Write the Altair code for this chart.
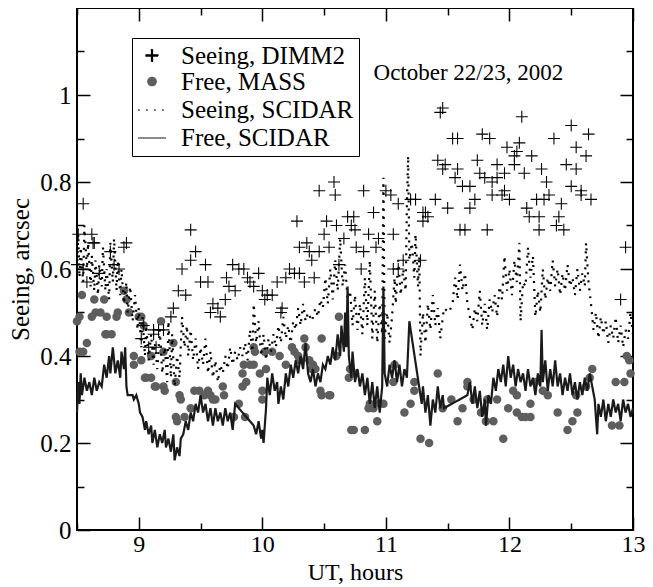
import altair as alt
import pandas as pd

SERIES = ["Seeing, DIMM2", "Free, MASS", "Seeing, SCIDAR", "Free, SCIDAR"]
COLORS = ["#000000", "#5e5e5e", "#000000", "#1a1a1a"]

# Seeing, DIMM2 (crosses): (UT hours, arcsec)
dimm2 = [
    (8.50, 0.61), (8.51, 0.68), (8.55, 0.75), (8.55, 0.60), (8.58, 0.57), (8.62, 0.68),
    (8.63, 0.66), (8.64, 0.66), (8.68, 0.59), (8.77, 0.64), (8.80, 0.61), (8.84, 0.60),
    (8.88, 0.65), (8.90, 0.66), (9.02, 0.44), (9.04, 0.47), (9.08, 0.42), (9.12, 0.46),
    (9.12, 0.45), (9.14, 0.42), (9.16, 0.46), (9.20, 0.46), (9.26, 0.49), (9.28, 0.51),
    (9.32, 0.55), (9.35, 0.60), (9.38, 0.54), (9.42, 0.69), (9.42, 0.62), (9.46, 0.64),
    (9.50, 0.57), (9.54, 0.61), (9.56, 0.57), (9.58, 0.50), (9.60, 0.52), (9.64, 0.51),
    (9.66, 0.49), (9.70, 0.53), (9.71, 0.58), (9.73, 0.56), (9.76, 0.61), (9.78, 0.55),
    (9.81, 0.60), (9.85, 0.60), (9.88, 0.58), (9.90, 0.57), (9.93, 0.56), (9.97, 0.59),
    (10.00, 0.55), (10.02, 0.53), (10.04, 0.54), (10.08, 0.54), (10.12, 0.57), (10.15, 0.50),
    (10.16, 0.51), (10.19, 0.58), (10.22, 0.60), (10.26, 0.59), (10.28, 0.71), (10.30, 0.59),
    (10.30, 0.65), (10.34, 0.57), (10.36, 0.66), (10.38, 0.64), (10.40, 0.62), (10.42, 0.58),
    (10.46, 0.64), (10.46, 0.78), (10.50, 0.68), (10.52, 0.71), (10.54, 0.65), (10.58, 0.80),
    (10.59, 0.77), (10.60, 0.70), (10.62, 0.61), (10.66, 0.67), (10.69, 0.72), (10.72, 0.70),
    (10.74, 0.72), (10.75, 0.69), (10.76, 0.65), (10.80, 0.60), (10.82, 0.78), (10.82, 0.64),
    (10.86, 0.68), (10.90, 0.73), (10.92, 0.65), (10.94, 0.67), (11.00, 0.78), (11.04, 0.77),
    (11.06, 0.68), (11.06, 0.60), (11.10, 0.75), (11.10, 0.60), (11.14, 0.62), (11.20, 0.76),
    (11.24, 0.76), (11.28, 0.62), (11.30, 0.73), (11.30, 0.71), (11.32, 0.73), (11.34, 0.72),
    (11.40, 0.76), (11.42, 0.85), (11.44, 0.96), (11.46, 0.97), (11.46, 0.83), (11.48, 0.84),
    (11.50, 0.74), (11.54, 0.90), (11.56, 0.81), (11.58, 0.90), (11.58, 0.83), (11.60, 0.69),
    (11.62, 0.79), (11.64, 0.69), (11.68, 0.79), (11.68, 0.74), (11.72, 0.76), (11.74, 0.85),
    (11.76, 0.82), (11.78, 0.91), (11.80, 0.81), (11.82, 0.69), (11.84, 0.90), (11.86, 0.80),
    (11.86, 0.77), (11.90, 0.84), (11.90, 0.81), (11.94, 0.77), (11.96, 0.82), (11.96, 0.78),
    (11.98, 0.88), (12.00, 0.76), (12.04, 0.86), (12.04, 0.84), (12.06, 0.87), (12.08, 0.89),
    (12.10, 0.95), (12.12, 0.82), (12.14, 0.74), (12.16, 0.72), (12.18, 0.86), (12.22, 0.76),
    (12.24, 0.72), (12.24, 0.69), (12.26, 0.83), (12.28, 0.76), (12.30, 0.80), (12.32, 0.77),
    (12.36, 0.90), (12.38, 0.70), (12.40, 0.72), (12.42, 0.75), (12.44, 0.69), (12.46, 0.84),
    (12.50, 0.79), (12.50, 0.93), (12.54, 0.88), (12.54, 0.83), (12.58, 0.78), (12.58, 0.77),
    (12.62, 0.86), (12.64, 0.91), (12.66, 0.76), (12.90, 0.53), (12.94, 0.65),
]

# Free, MASS (grey dots)
mass = [
    (8.50, 0.48), (8.52, 0.49), (8.52, 0.41), (8.54, 0.54), (8.55, 0.41), (8.58, 0.43),
    (8.62, 0.49), (8.64, 0.53), (8.65, 0.50), (8.69, 0.50), (8.72, 0.53), (8.73, 0.45),
    (8.74, 0.49), (8.74, 0.45), (8.78, 0.45), (8.82, 0.49), (8.83, 0.50), (8.88, 0.55),
    (8.90, 0.53), (8.92, 0.50), (8.96, 0.40), (8.96, 0.38), (9.00, 0.49), (9.02, 0.49),
    (9.02, 0.39), (9.04, 0.47), (9.05, 0.35), (9.06, 0.35), (9.10, 0.40), (9.10, 0.35),
    (9.13, 0.33), (9.14, 0.33), (9.18, 0.48), (9.20, 0.41), (9.20, 0.33), (9.21, 0.32),
    (9.28, 0.43), (9.30, 0.34), (9.30, 0.26), (9.31, 0.25), (9.33, 0.31), (9.34, 0.30),
    (9.37, 0.26), (9.42, 0.28), (9.45, 0.32), (9.49, 0.32), (9.53, 0.31), (9.56, 0.32),
    (9.58, 0.31), (9.60, 0.30), (9.62, 0.30), (9.68, 0.33), (9.69, 0.31), (9.77, 0.26),
    (9.81, 0.29), (9.84, 0.36), (9.84, 0.33), (9.85, 0.38), (9.86, 0.26), (9.87, 0.34),
    (9.90, 0.38), (9.93, 0.38), (9.93, 0.42), (9.94, 0.41), (9.98, 0.36), (10.00, 0.32),
    (10.00, 0.30), (10.02, 0.41), (10.03, 0.37), (10.08, 0.41), (10.14, 0.40), (10.19, 0.38),
    (10.24, 0.42), (10.26, 0.41), (10.29, 0.40), (10.30, 0.39), (10.34, 0.44), (10.35, 0.42),
    (10.38, 0.39), (10.40, 0.37), (10.41, 0.38), (10.43, 0.37), (10.47, 0.32), (10.48, 0.44),
    (10.48, 0.31), (10.54, 0.31), (10.55, 0.31), (10.60, 0.40), (10.62, 0.49), (10.70, 0.35),
    (10.71, 0.37), (10.72, 0.23), (10.74, 0.23), (10.75, 0.36), (10.83, 0.23), (10.86, 0.28),
    (10.87, 0.29), (10.90, 0.28), (10.93, 0.25), (10.95, 0.29), (10.98, 0.29), (11.06, 0.34),
    (11.07, 0.38), (11.15, 0.27), (11.20, 0.29), (11.23, 0.34), (11.23, 0.32), (11.28, 0.21),
    (11.35, 0.20), (11.42, 0.36), (11.46, 0.28), (11.53, 0.30), (11.58, 0.25), (11.62, 0.28),
    (11.66, 0.33), (11.66, 0.34), (11.71, 0.30), (11.77, 0.27), (11.81, 0.25), (11.82, 0.30),
    (11.87, 0.25), (11.90, 0.30), (11.95, 0.21), (11.99, 0.28), (12.03, 0.32), (12.06, 0.31),
    (12.06, 0.27), (12.10, 0.26), (12.13, 0.26), (12.17, 0.26), (12.17, 0.29), (12.21, 0.34),
    (12.27, 0.32), (12.31, 0.31), (12.39, 0.27), (12.47, 0.23), (12.51, 0.25), (12.54, 0.31),
    (12.55, 0.27), (12.62, 0.33), (12.65, 0.35), (12.67, 0.37), (12.83, 0.24), (12.86, 0.34),
    (12.89, 0.24), (12.93, 0.34), (12.95, 0.40), (12.97, 0.39), (12.98, 0.36),
]

# Seeing, SCIDAR (dotted)
seeing_scidar = [
    (8.50, 0.60), (8.51, 0.68), (8.52, 0.58), (8.53, 0.65), (8.55, 0.57), (8.56, 0.70),
    (8.58, 0.60), (8.59, 0.66), (8.61, 0.56), (8.62, 0.63), (8.64, 0.55), (8.65, 0.62),
    (8.67, 0.54), (8.68, 0.61), (8.70, 0.56), (8.71, 0.65), (8.73, 0.55), (8.74, 0.60),
    (8.76, 0.53), (8.77, 0.66), (8.79, 0.57), (8.80, 0.67), (8.82, 0.55), (8.83, 0.62),
    (8.85, 0.54), (8.86, 0.60), (8.88, 0.52), (8.90, 0.57), (8.91, 0.50), (8.93, 0.56),
    (8.95, 0.48), (8.97, 0.54), (8.99, 0.46), (9.00, 0.51), (9.02, 0.42), (9.03, 0.49),
    (9.05, 0.40), (9.06, 0.47), (9.08, 0.39), (9.10, 0.45), (9.12, 0.38), (9.13, 0.43),
    (9.15, 0.37), (9.17, 0.46), (9.19, 0.36), (9.21, 0.42), (9.23, 0.34), (9.24, 0.48),
    (9.26, 0.35), (9.27, 0.45), (9.29, 0.33), (9.31, 0.40), (9.33, 0.35), (9.35, 0.49),
    (9.37, 0.42), (9.39, 0.47), (9.40, 0.40), (9.42, 0.46), (9.44, 0.39), (9.46, 0.44),
    (9.48, 0.37), (9.50, 0.42), (9.52, 0.38), (9.54, 0.44), (9.56, 0.36), (9.58, 0.41),
    (9.60, 0.35), (9.62, 0.39), (9.64, 0.34), (9.66, 0.38), (9.68, 0.36), (9.70, 0.40),
    (9.72, 0.37), (9.74, 0.42), (9.76, 0.38), (9.78, 0.41), (9.80, 0.39), (9.82, 0.42),
    (9.84, 0.40), (9.86, 0.43), (9.88, 0.39), (9.90, 0.46), (9.92, 0.41), (9.93, 0.52),
    (9.95, 0.43), (9.97, 0.48), (9.99, 0.40), (10.01, 0.45), (10.03, 0.39), (10.05, 0.44),
    (10.07, 0.41), (10.09, 0.45), (10.11, 0.42), (10.13, 0.47), (10.15, 0.43), (10.17, 0.49),
    (10.19, 0.44), (10.21, 0.47), (10.23, 0.43), (10.25, 0.48), (10.27, 0.46), (10.29, 0.51),
    (10.31, 0.47), (10.33, 0.52), (10.35, 0.48), (10.37, 0.50), (10.40, 0.48), (10.43, 0.51),
    (10.45, 0.49), (10.47, 0.53), (10.49, 0.51), (10.51, 0.58), (10.53, 0.52), (10.55, 0.60),
    (10.57, 0.53), (10.59, 0.62), (10.61, 0.55), (10.63, 0.67), (10.65, 0.56), (10.67, 0.61),
    (10.69, 0.53), (10.71, 0.55), (10.73, 0.47), (10.75, 0.54), (10.77, 0.46), (10.79, 0.52),
    (10.81, 0.45), (10.83, 0.58), (10.85, 0.47), (10.87, 0.62), (10.89, 0.44), (10.91, 0.55),
    (10.93, 0.43), (10.95, 0.52), (10.97, 0.45), (10.98, 0.81), (10.99, 0.44), (11.01, 0.50),
    (11.03, 0.43), (11.05, 0.49), (11.07, 0.58), (11.08, 0.52), (11.10, 0.62), (11.12, 0.54),
    (11.14, 0.60), (11.16, 0.55), (11.17, 0.75), (11.18, 0.86), (11.19, 0.62), (11.21, 0.66),
    (11.23, 0.58), (11.24, 0.68), (11.26, 0.56), (11.27, 0.63), (11.28, 0.40), (11.30, 0.50),
    (11.32, 0.43), (11.34, 0.52), (11.36, 0.46), (11.38, 0.54), (11.40, 0.47), (11.42, 0.51),
    (11.44, 0.44), (11.47, 0.51), (11.51, 0.50), (11.54, 0.52), (11.56, 0.58), (11.58, 0.53),
    (11.60, 0.61), (11.62, 0.55), (11.64, 0.59), (11.66, 0.52), (11.68, 0.49), (11.70, 0.46),
    (11.72, 0.51), (11.74, 0.48), (11.76, 0.55), (11.78, 0.47), (11.80, 0.52), (11.82, 0.46),
    (11.84, 0.53), (11.86, 0.50), (11.88, 0.54), (11.90, 0.49), (11.92, 0.56), (11.94, 0.53),
    (11.96, 0.63), (11.98, 0.55), (12.00, 0.60), (12.02, 0.54), (12.04, 0.62), (12.06, 0.57),
    (12.08, 0.66), (12.09, 0.48), (12.11, 0.57), (12.13, 0.56), (12.15, 0.65), (12.17, 0.58),
    (12.19, 0.63), (12.21, 0.49), (12.23, 0.55), (12.25, 0.50), (12.27, 0.60), (12.29, 0.53),
    (12.31, 0.58), (12.33, 0.55), (12.35, 0.62), (12.37, 0.56), (12.39, 0.60), (12.41, 0.54),
    (12.43, 0.59), (12.45, 0.55), (12.47, 0.61), (12.49, 0.56), (12.51, 0.58), (12.53, 0.54),
    (12.55, 0.60), (12.57, 0.55), (12.59, 0.59), (12.61, 0.56), (12.62, 0.66), (12.64, 0.57),
    (12.66, 0.52), (12.68, 0.46), (12.70, 0.50), (12.72, 0.44), (12.74, 0.49), (12.76, 0.45),
    (12.78, 0.48), (12.80, 0.43), (12.82, 0.47), (12.84, 0.44), (12.86, 0.49), (12.88, 0.43),
    (12.90, 0.47), (12.92, 0.42), (12.94, 0.46), (12.96, 0.44), (12.98, 0.50), (13.00, 0.45),
]

# Free, SCIDAR (solid)
free_scidar = [
    (8.50, 0.27), (8.51, 0.34), (8.52, 0.29), (8.53, 0.36), (8.54, 0.31), (8.56, 0.35),
    (8.58, 0.32), (8.60, 0.34), (8.62, 0.31), (8.64, 0.35), (8.66, 0.32), (8.68, 0.34),
    (8.70, 0.33), (8.72, 0.38), (8.74, 0.35), (8.76, 0.40), (8.77, 0.36), (8.79, 0.42),
    (8.81, 0.36), (8.83, 0.39), (8.85, 0.35), (8.86, 0.41), (8.88, 0.37), (8.89, 0.42),
    (8.90, 0.33), (8.91, 0.31), (8.95, 0.31), (8.96, 0.30), (8.98, 0.31), (9.00, 0.29),
    (9.01, 0.27), (9.03, 0.26), (9.05, 0.23), (9.06, 0.25), (9.08, 0.22), (9.10, 0.24),
    (9.11, 0.20), (9.13, 0.23), (9.15, 0.19), (9.17, 0.22), (9.19, 0.20), (9.21, 0.23),
    (9.22, 0.19), (9.24, 0.21), (9.26, 0.18), (9.28, 0.22), (9.29, 0.16), (9.31, 0.19),
    (9.33, 0.17), (9.34, 0.21), (9.36, 0.22), (9.38, 0.25), (9.40, 0.23), (9.42, 0.27),
    (9.44, 0.25), (9.46, 0.29), (9.48, 0.27), (9.50, 0.31), (9.52, 0.27), (9.54, 0.29),
    (9.56, 0.25), (9.58, 0.28), (9.60, 0.24), (9.62, 0.28), (9.64, 0.25), (9.66, 0.27),
    (9.68, 0.24), (9.70, 0.28), (9.72, 0.25), (9.74, 0.27), (9.76, 0.23), (9.78, 0.29),
    (9.93, 0.24), (9.95, 0.22), (9.97, 0.25), (9.99, 0.21), (10.00, 0.23), (10.01, 0.20),
    (10.03, 0.28), (10.04, 0.35), (10.06, 0.31), (10.08, 0.36), (10.10, 0.32), (10.12, 0.34),
    (10.13, 0.29), (10.15, 0.33), (10.17, 0.30), (10.19, 0.36), (10.21, 0.33), (10.23, 0.38),
    (10.25, 0.35), (10.27, 0.39), (10.29, 0.36), (10.31, 0.40), (10.33, 0.37), (10.35, 0.43),
    (10.37, 0.36), (10.39, 0.34), (10.41, 0.37), (10.43, 0.33), (10.45, 0.36), (10.47, 0.34),
    (10.49, 0.38), (10.51, 0.37), (10.53, 0.40), (10.55, 0.38), (10.57, 0.42), (10.59, 0.39),
    (10.61, 0.45), (10.63, 0.40), (10.64, 0.47), (10.66, 0.41), (10.67, 0.50), (10.68, 0.42),
    (10.69, 0.56), (10.70, 0.40), (10.72, 0.35), (10.73, 0.41), (10.75, 0.34), (10.77, 0.37),
    (10.79, 0.33), (10.81, 0.36), (10.83, 0.31), (10.85, 0.35), (10.87, 0.29), (10.89, 0.34),
    (10.91, 0.28), (10.93, 0.33), (10.95, 0.27), (10.97, 0.33), (10.98, 0.56), (10.99, 0.36),
    (11.01, 0.33), (11.03, 0.38), (11.05, 0.35), (11.07, 0.39), (11.09, 0.34), (11.11, 0.38),
    (11.13, 0.33), (11.15, 0.37), (11.17, 0.35), (11.19, 0.48), (11.29, 0.29), (11.30, 0.33),
    (11.32, 0.27), (11.34, 0.31), (11.36, 0.24), (11.38, 0.30), (11.40, 0.27), (11.42, 0.33),
    (11.44, 0.28), (11.46, 0.31), (11.47, 0.28), (11.66, 0.31), (11.68, 0.34), (11.70, 0.29),
    (11.72, 0.33), (11.74, 0.28), (11.76, 0.32), (11.78, 0.26), (11.80, 0.30), (11.81, 0.24),
    (11.83, 0.31), (11.85, 0.29), (11.87, 0.35), (11.89, 0.32), (11.91, 0.37), (11.93, 0.34),
    (11.95, 0.38), (11.97, 0.33), (11.99, 0.40), (12.01, 0.35), (12.03, 0.38), (12.05, 0.33),
    (12.07, 0.37), (12.09, 0.34), (12.11, 0.36), (12.13, 0.32), (12.15, 0.37), (12.17, 0.33),
    (12.19, 0.35), (12.21, 0.31), (12.23, 0.36), (12.25, 0.33), (12.26, 0.46), (12.27, 0.34),
    (12.29, 0.39), (12.31, 0.32), (12.33, 0.37), (12.35, 0.33), (12.37, 0.39), (12.39, 0.33),
    (12.41, 0.36), (12.43, 0.31), (12.45, 0.35), (12.47, 0.32), (12.49, 0.36), (12.51, 0.31),
    (12.53, 0.34), (12.55, 0.30), (12.57, 0.34), (12.59, 0.31), (12.61, 0.35), (12.63, 0.32),
    (12.65, 0.36), (12.67, 0.33), (12.69, 0.30), (12.71, 0.22), (12.72, 0.29), (12.74, 0.26),
    (12.76, 0.30), (12.78, 0.25), (12.80, 0.29), (12.82, 0.26), (12.84, 0.30), (12.86, 0.27),
    (12.88, 0.29), (12.90, 0.25), (12.92, 0.30), (12.94, 0.27), (12.96, 0.29), (12.98, 0.26),
    (13.00, 0.28),
]

annotation = ["October 22/23, 2002"]
x_major = [9, 10, 11, 12, 13]
x_minor = [8.5, 9.5, 10.5, 11.5, 12.5]
y_major = [0, 0.2, 0.4, 0.6, 0.8, 1.0]
y_minor = [0.1, 0.3, 0.5, 0.7, 0.9, 1.1]

FONT = "Liberation Serif"
CROSS = ("M-1,-0.09L-0.09,-0.09L-0.09,-1L0.09,-1L0.09,-0.09L1,-0.09L1,0.09"
         "L0.09,0.09L0.09,1L-0.09,1L-0.09,0.09L-1,0.09Z")


def frame(pairs, name):
    return pd.DataFrame({"t": [p[0] for p in pairs], "v": [p[1] for p in pairs], "series": name})


df_dimm = frame(dimm2, SERIES[0])
df_mass = frame(mass, SERIES[1])
df_see = frame(seeing_scidar, SERIES[2])
df_free = frame(free_scidar, SERIES[3])

xs = alt.Scale(domain=[8.5, 13], nice=False, zero=False)
ys = alt.Scale(domain=[0, 1.2], nice=False, zero=False)

color = alt.Color("series:N", scale=alt.Scale(domain=SERIES, range=COLORS), title=None)
shape = alt.Shape("series:N", scale=alt.Scale(domain=SERIES, range=[CROSS, "circle", "stroke", "stroke"]), title=None)
size = alt.Size("series:N", scale=alt.Scale(type="ordinal", domain=SERIES, range=[144, 72, 784, 784]), title=None)
dash = alt.StrokeDash("series:N", scale=alt.Scale(domain=SERIES, range=[[1, 0], [1, 0], [2, 6], [1, 0]]), title=None)


def ax(orient, values, tick, labels=False, title=None, **kw):
    return alt.Axis(orient=orient, values=values, tickSize=tick, offset=-tick, labels=labels,
                    domain=False, grid=False, title=title, format="~g", **kw)


mass_layer = alt.Chart(df_mass).mark_point(filled=True, opacity=1).encode(
    x=alt.X("t:Q", scale=xs, axis=ax("top", x_major, 13)),
    y=alt.Y("v:Q", scale=ys, axis=ax("right", y_major[1:], 13)),
    color=color, shape=shape, size=size,
)

see_layer = alt.Chart(df_see).mark_line(strokeWidth=2.2).encode(
    x=alt.X("t:Q", scale=xs, axis=ax("bottom", x_minor, 7)),
    y=alt.Y("v:Q", scale=ys, axis=ax("left", y_minor, 7)),
    color=color, strokeDash=dash,
)

free_layer = alt.Chart(df_free).mark_line(strokeWidth=2.2).encode(
    x=alt.X("t:Q", scale=xs, axis=ax("top", x_minor, 7)),
    y=alt.Y("v:Q", scale=ys, axis=ax("right", y_minor, 7)),
    color=color, strokeDash=dash,
)

dimm_layer = alt.Chart(df_dimm).mark_point(filled=True, opacity=1).encode(
    x=alt.X("t:Q", scale=xs, axis=ax(
        "bottom", x_major, 13, labels=True, title="UT, hours",
        labelPadding=2, titlePadding=4, labelFont=FONT, labelFontSize=24, labelColor="black",
        labelFlush=False, titleFont=FONT, titleFontSize=24, titleFontWeight="normal",
        titleColor="black")),
    y=alt.Y("v:Q", scale=ys, axis=ax(
        "left", y_major, 13, labels=True, title="Seeing, arcsec",
        labelPadding=6, titlePadding=6, labelFont=FONT, labelFontSize=25, labelColor="black",
        titleFont=FONT, titleFontSize=25, titleFontWeight="normal", titleColor="black")),
    color=color, shape=shape, size=size,
)

text_layer = alt.Chart(pd.DataFrame({"label": annotation})).mark_text(
    align="left", baseline="alphabetic", font=FONT, fontSize=23, color="black"
).encode(
    x=alt.XDatum(10.9, type="quantitative", scale=xs, axis=None),
    y=alt.YDatum(1.035, type="quantitative", scale=ys, axis=None),
    text="label:N",
)

chart = alt.layer(mass_layer, see_layer, free_layer, dimm_layer, text_layer).resolve_axis(
    x="independent", y="independent"
).properties(
    width=556, height=522,
    autosize=alt.AutoSizeParams(type="none"),
    padding={"left": 69, "top": 0, "right": 12, "bottom": 57},
).configure(
    font=FONT
).configure_view(
    stroke="black", strokeWidth=2
).configure_axis(
    tickColor="black", tickWidth=1.5, labelFont=FONT, titleFont=FONT
).configure_legend(
    orient="none", legendX=55, legendY=30, padding=5,
    strokeColor="black", fillColor="white", cornerRadius=0,
    labelFont=FONT, labelFontSize=25, labelColor="black", labelLimit=400, labelOffset=14,
    rowPadding=0, symbolStrokeWidth=1.2,
)

chart.save("out.html", embed_options={"renderer": "svg", "actions": False})
